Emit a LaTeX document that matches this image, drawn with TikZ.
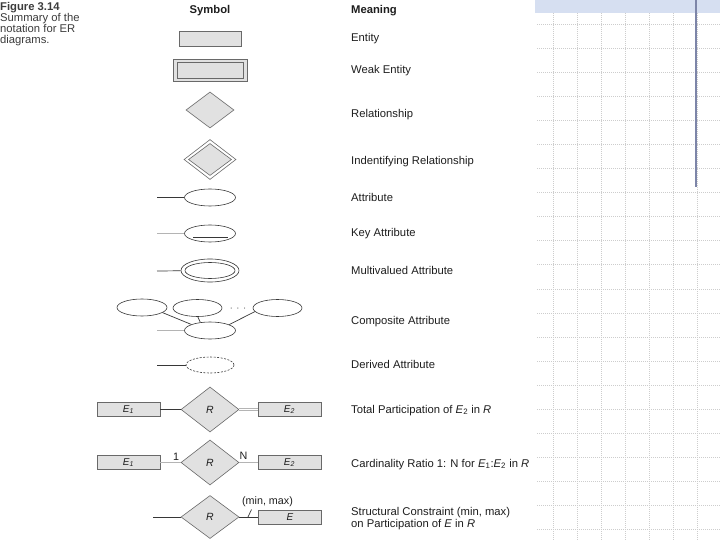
\documentclass[tikz,border=0pt]{standalone}
\usepackage{fontspec}
\setmainfont{Liberation Sans}
\usetikzlibrary{shapes.geometric}
\definecolor{shapefill}{RGB}{225,225,225}
\definecolor{shapeline}{RGB}{105,105,105}
\definecolor{linedark}{RGB}{55,55,55}
\definecolor{linelight}{RGB}{180,180,180}
\definecolor{gridcol}{RGB}{205,205,205}
\definecolor{bandcol}{RGB}{214,223,241}
\definecolor{barcol}{RGB}{125,133,168}
\definecolor{txt}{RGB}{30,30,30}
\definecolor{captxt}{RGB}{60,60,60}
\newcommand{\Esub}[1]{\textit{E}\textsubscript{#1}}
\begin{document}
\begin{tikzpicture}[x=1bp,y=-1bp,
  ent/.style={draw=shapeline, fill=shapefill, line width=0.8bp, minimum width=63bp, minimum height=14bp, inner sep=0, text=txt, font=\fontsize{10}{10}\selectfont\itshape},
  rel/.style={diamond, draw=shapeline, fill=shapefill, line width=0.6bp, inner sep=0, minimum width=58bp, minimum height=45bp, text=txt, font=\fontsize{10.5}{10.5}\selectfont\itshape},
  att/.style={ellipse, draw=linedark, line width=0.6bp, inner sep=0, minimum width=51bp, minimum height=17bp},
  lbl/.style={anchor=base west, font=\fontsize{11.3}{11.3}\selectfont, text=txt, inner sep=0},
  hdr/.style={anchor=base, font=\fontsize{11.3}{11.3}\selectfont\bfseries, text=txt, inner sep=0},
  small/.style={font=\fontsize{10.8}{10.8}\selectfont, text=txt, inner sep=0},
  conn/.style={draw=linedark, line width=0.7bp},
  connl/.style={draw=linelight, line width=1.1bp},
  gridline/.style={draw=gridcol, line width=0.6bp, dash pattern=on 1bp off 1bp},
]
\useasboundingbox (0,0) rectangle (720,540);
\fill[white] (0,0) rectangle (720,540);
% slide background
\foreach \k in {1,...,22} \draw[gridline] (537,24.07*\k) -- (720,24.07*\k);
\foreach \i in {0,...,7} \draw[gridline] (553+24*\i,13) -- (553+24*\i,540);
\fill[bandcol] (535,0) rectangle (720,13);
\draw[barcol, line width=1.2bp] (696,0) -- (696,187);

% caption
\node[anchor=north west, align=left, inner sep=0, text=captxt, font=\fontsize{11.3}{10.9}\selectfont] (cap) at (0,2.5)
  {\textbf{Figure 3.14}\\Summary of the\\notation for ER\\diagrams.};

% headers
\node[hdr] (hsym) at (210,14) {Symbol};
\node[hdr, anchor=base west] (hmean) at (351,14) {Meaning};

% meanings
\node[lbl] (m1) at (351,42) {Entity};
\node[lbl] (m2) at (351,74) {Weak Entity};
\node[lbl] (m3) at (351,118) {Relationship};
\node[lbl] (m4) at (351,165) {Indentifying Relationship};
\node[lbl] (m5) at (351,202) {Attribute};
\node[lbl] (m6) at (351,237) {Key Attribute};
\node[lbl] (m7) at (351,275) {Multivalued Attribute};
\node[lbl] (m8) at (351,324) {Composite Attribute};
\node[lbl] (m9) at (351,368) {Derived Attribute};
\node[lbl] (m10) at (351,413) {Total Participation of \Esub{2} in \textit{R}};
\node[lbl] (m11) at (351,467) {Cardinality Ratio 1: N for \Esub{1}:\Esub{2} in \textit{R}};
\node[lbl] (m12) at (351,515) {Structural Constraint (min, max)};
\node[lbl] (m13) at (351,527) {on Participation of \textit{E} in \textit{R}};

% entity, weak entity
\node[ent, minimum width=62bp, minimum height=15bp] (ent) at (210,38.5) {};
\node[ent, minimum width=74bp, minimum height=22bp] (weako) at (210,70) {};
\node[ent, minimum width=66bp, minimum height=16bp] (weaki) at (210,70) {};

% relationship, identifying relationship
\node[rel, minimum width=48bp, minimum height=36bp] (relsym) at (210,110) {};
\node[rel, fill=white, minimum width=52bp, minimum height=40bp] (idro) at (210,159.5) {};
\node[rel, minimum width=43bp, minimum height=32bp] (idri) at (210,159.5) {};

% attribute
\coordinate (a1s) at (157,197.5);
\node[att] (a1) at (210,197.5) {};
\draw[conn] (a1s) -- (a1);

% key attribute
\coordinate (a2s) at (157,233.5);
\node[att] (a2) at (210,233.5) {};
\draw[connl] (a2s) -- (a2);
\draw[conn] ([xshift=-17bp,yshift=-4bp]a2.center) -- ([xshift=18bp,yshift=-4bp]a2.center);

% multivalued attribute
\coordinate (a3s) at (157,271);
\node[att, minimum width=58bp, minimum height=23bp] (a3o) at (210,270.5) {};
\node[att, minimum width=50bp, minimum height=16bp] (a3i) at (210,270.5) {};
\draw[conn] (a3s) -- (a3o);

% composite attribute
\node[att, minimum width=50bp] (cl) at (142,307.5) {};
\node[att, minimum width=49bp] (cm) at (197.5,308) {};
\node[att, minimum width=49bp] (cr) at (277.5,308) {};
\node[att] (cb) at (210,330.5) {};
\node[small, text=gray] (cdots) at (238,310) {· · ·};
\coordinate (a4s) at (157,330.5);
\draw[connl] (a4s) -- (cb);
\draw[conn] (cl.-14) -- (cb.162);
\draw[conn] (cm.-88) -- (cb.140);
\draw[conn] (cr.-171) -- (cb.17);

% derived attribute
\coordinate (a5s) at (157,365);
\node[att, dash pattern=on 2bp off 1.5bp, minimum width=48bp, minimum height=16bp] (a5) at (210,365) {};
\draw[conn] (a5s) -- (a5);

% total participation
\node[ent] (t1) at (128.5,409.5) {\Esub{1}};
\node[rel] (tr) at (210,409.5) {R};
\node[ent] (t2) at (289.5,409.5) {\Esub{2}};
\draw[conn] (t1) -- (tr);
\draw[draw=linelight, line width=0.8bp, double=white, double distance=1.6bp] (tr) -- (t2);

% cardinality ratio
\node[ent] (c1) at (128.5,462.5) {\Esub{1}};
\node[rel] (cr2) at (210,462.5) {R};
\node[ent] (c2) at (289.5,462.5) {\Esub{2}};
\draw[connl] (c1) -- (cr2);
\draw[connl] (cr2) -- (c2);
\node[small] (one) at (176,457) {1};
\node[small] (enn) at (243.5,456) {N};

% structural constraint
\coordinate (ss) at (153,517);
\node[rel, minimum height=43bp] (sr) at (210,517) {R};
\node[ent] (se) at (290,517) {\textit{E}};
\draw[conn] (ss) -- (sr);
\draw[conn] (sr) -- (se);
\coordinate (tk1) at (248,517);
\coordinate (tk2) at (251.5,509.5);
\draw[conn] (tk1) -- (tk2);
\node[small] (mm) at (267.5,502) {(min, max)};
\end{tikzpicture}
\end{document}
